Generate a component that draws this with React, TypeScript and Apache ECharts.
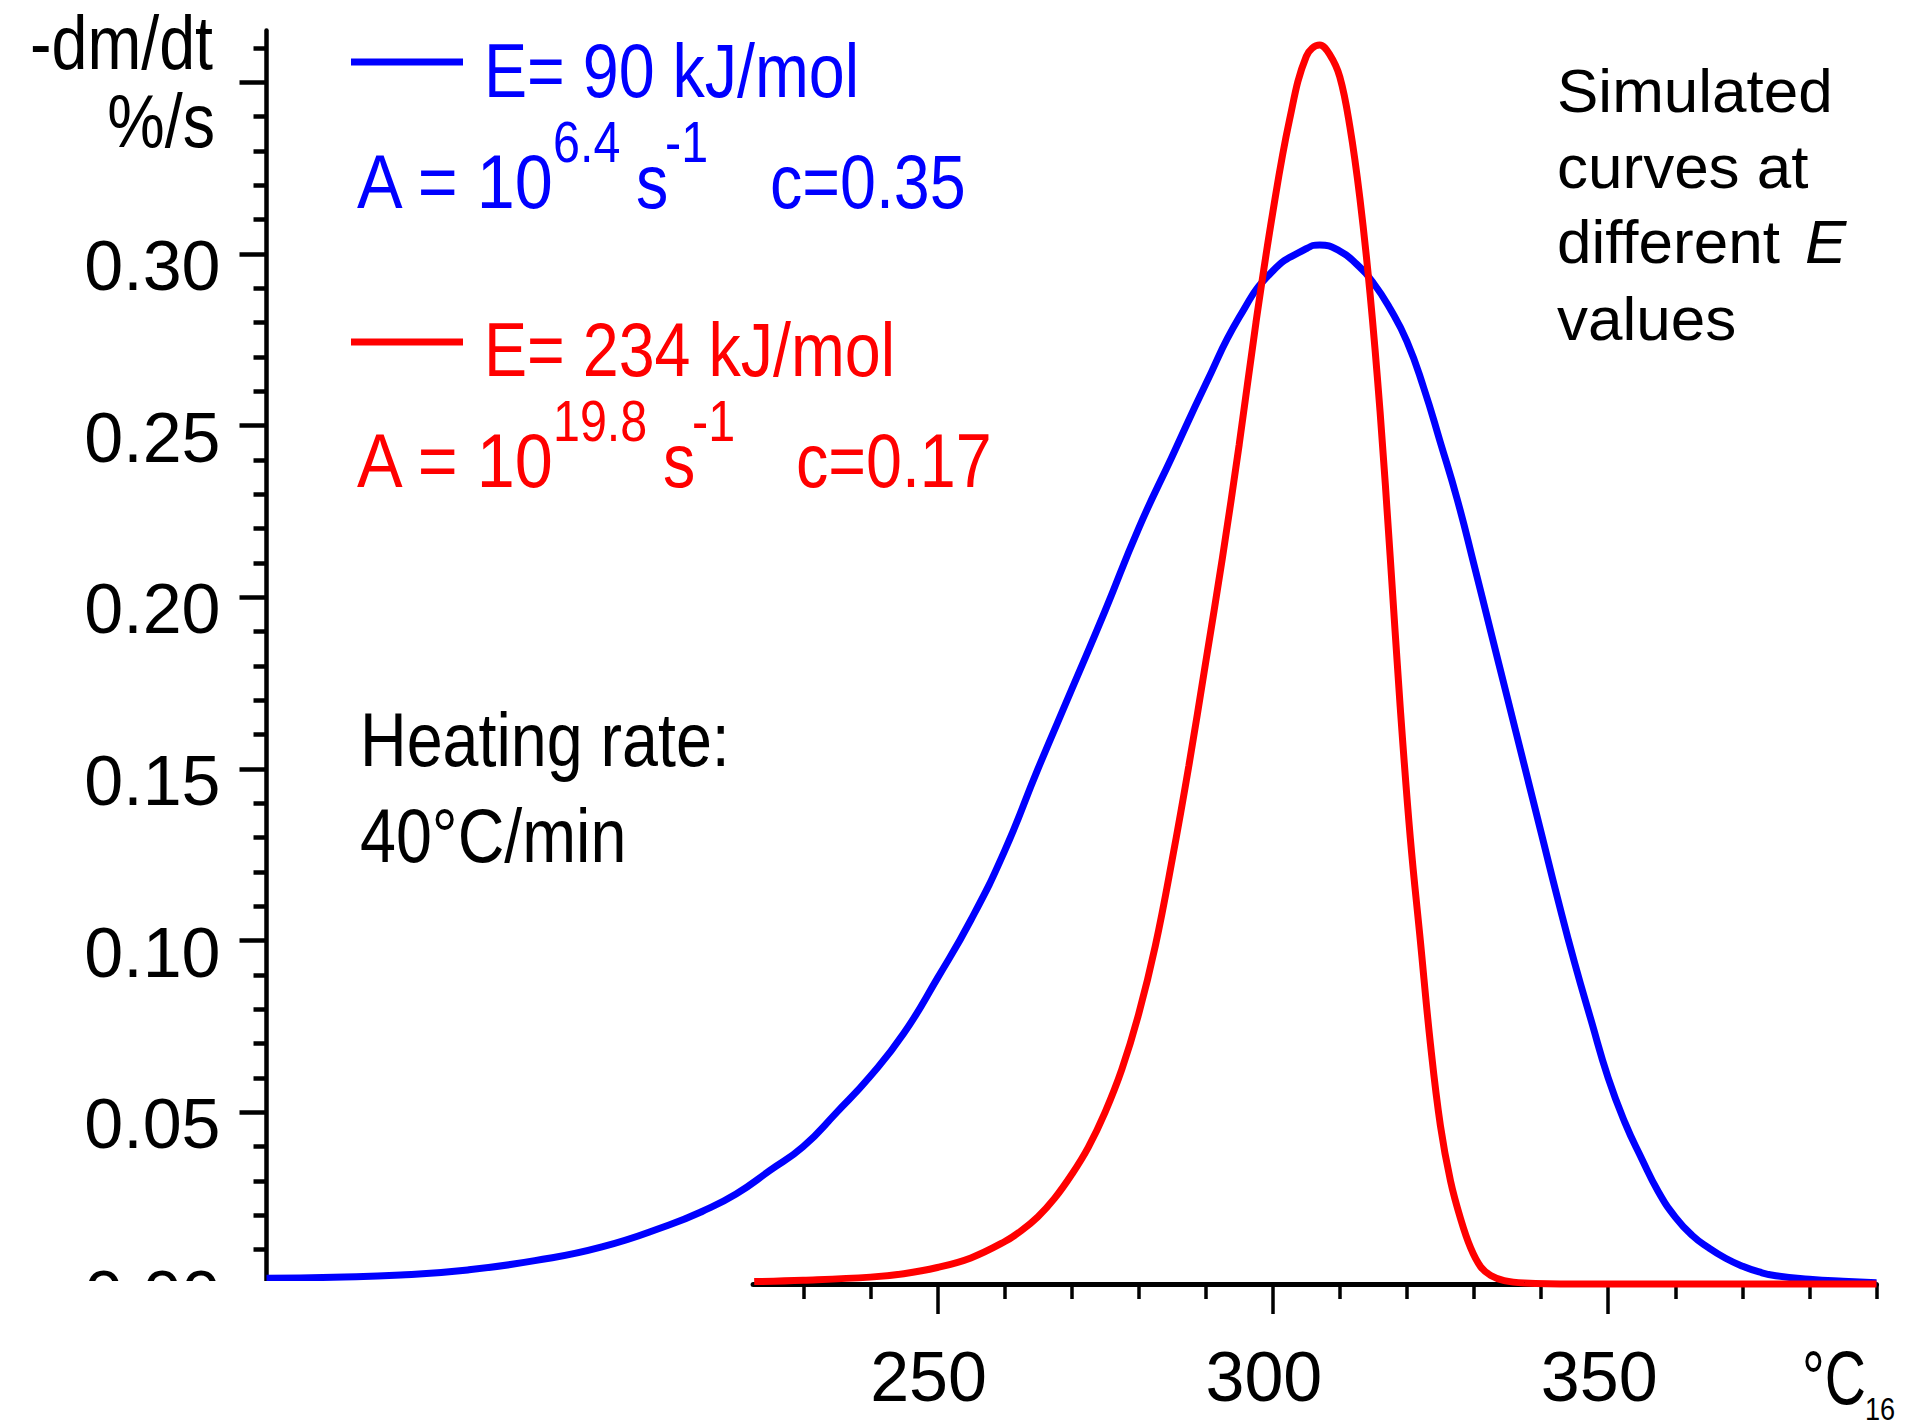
import React, { useEffect, useRef } from 'react';
import * as echarts from 'echarts';

// ---- data (temperature °C, -dm/dt %/s) ----
const blueTemp = [150, 160, 170, 180, 190, 200, 210, 215, 220, 225, 230, 235, 240, 245, 250, 255, 260, 265, 270, 275, 280, 285, 290, 295, 300, 305, 307, 310, 312.5, 315, 317.5, 320, 322.5, 325, 327.5, 330, 332.5, 335, 337.5, 340, 342.5, 345, 347.5, 350, 352.5, 355, 357.5, 360, 362.5, 365, 367.5, 370, 372.5, 375, 380, 385, 390];
const blueRate = [0.0017, 0.0020, 0.0026, 0.0041, 0.0068, 0.0108, 0.0172, 0.0212, 0.0262, 0.0330, 0.0400, 0.0500, 0.0605, 0.0730, 0.0890, 0.1060, 0.1260, 0.1500, 0.1730, 0.1960, 0.2200, 0.2410, 0.2620, 0.2815, 0.2950, 0.3015, 0.3026, 0.3008, 0.2970, 0.2915, 0.2840, 0.2745, 0.2610, 0.2450, 0.2285, 0.2095, 0.1900, 0.1705, 0.1510, 0.1315, 0.1120, 0.0935, 0.0765, 0.0600, 0.0470, 0.0365, 0.0268, 0.0195, 0.0142, 0.0105, 0.0075, 0.0052, 0.0035, 0.0024, 0.0014, 0.0008, 0.0004];

const redTemp = [222.7, 230, 240, 245, 250, 255, 260, 262.5, 265, 267.5, 270, 272.5, 275, 277.5, 280, 282.5, 285, 287.5, 290, 292.5, 295, 297.5, 300, 302.5, 305, 307, 308.5, 310, 311.5, 313, 314.5, 316, 317.5, 319, 320.5, 322, 323.5, 325, 326.5, 328, 329.5, 331, 332.5, 334.5, 337.5, 345, 390];
const redRate = [0.0007, 0.0011, 0.0020, 0.0030, 0.0048, 0.0076, 0.0123, 0.0155, 0.0196, 0.0250, 0.0318, 0.0398, 0.0500, 0.0625, 0.0785, 0.0985, 0.1235, 0.1510, 0.1810, 0.2115, 0.2445, 0.2800, 0.3120, 0.3390, 0.3575, 0.3608, 0.3580, 0.3515, 0.3370, 0.3160, 0.2885, 0.2540, 0.2120, 0.1680, 0.1300, 0.1000, 0.0700, 0.0460, 0.0300, 0.0190, 0.0105, 0.0050, 0.0025, 0.0010, 0.0003, 0.0000, 0.0000];

// ---- axis ticks / labels ----
const yLabelValues = [0, 0.05, 0.1, 0.15, 0.2, 0.25, 0.3];
const yMajorTicks = [0, 0.05, 0.1, 0.15, 0.2, 0.25, 0.3, 0.35];
const yMinorTicks = [0.01, 0.02, 0.03, 0.04, 0.06, 0.07, 0.08, 0.09, 0.11, 0.12, 0.13, 0.14, 0.16, 0.17, 0.18, 0.19, 0.21, 0.22, 0.23, 0.24, 0.26, 0.27, 0.28, 0.29, 0.31, 0.32, 0.33, 0.34, 0.36];
const xLabelValues = [250, 300, 350];
const xMinorTicks = [230, 240, 260, 270, 280, 290, 310, 320, 330, 340, 360, 370, 380, 390];

const FONT = "'Liberation Sans', Arial, sans-serif";
const BLUE = '#0000ff';
const RED = '#ff0000';
const NARROW_SCALE = 0.85;

const pairs = (xs: number[], ys: number[]) => xs.map((x, i) => [x, ys[i]]);

export default function App() {
  const ref = useRef<HTMLDivElement>(null);

  useEffect(() => {
    if (!ref.current) return;
    const chart = echarts.init(ref.current, null, { renderer: 'svg' });

    const gridMain = { left: 266.5, top: 30.6, width: 1610, height: 1253.4, show: false, containLabel: false, outerBoundsMode: 'none' };
    const gridX = { left: 753.1, top: 1000, width: 1123.4, height: 284, show: false, containLabel: false, outerBoundsMode: 'none' };
    const hidden = { show: false, splitLine: { show: false } };
    const tickStyle = (w: number) => ({ color: '#000', width: w });

    // condensed text: real text, horizontally squeezed
    const txt = (text: string, x: number, y: number, fontSize: number, fill: string, align = 'left', sx = NARROW_SCALE, extra: any = {}) => ({
      type: 'text', x, y, z: 10, scaleX: sx,
      style: { text, fill, fontSize, fontFamily: FONT, align, verticalAlign: 'middle', ...extra },
    });

    const option: any = {
      animation: false,
      backgroundColor: '#fff',
      grid: [gridMain, { ...gridMain }, gridX, { ...gridX }],
      xAxis: [
        { gridIndex: 0, type: 'value', min: 150, max: 390, ...hidden },
        { gridIndex: 1, type: 'value', min: 150, max: 390, ...hidden },
        {
          gridIndex: 2, type: 'value', min: 222.5, max: 390,
          splitLine: { show: false },
          axisLine: { show: true, onZero: false, lineStyle: { color: '#000', width: 5 } },
          axisTick: { show: true, customValues: xLabelValues, length: 30, lineStyle: tickStyle(3.5) },
          axisLabel: {
            show: true, customValues: xLabelValues, margin: 55, fontSize: 70, lineHeight: 76,
            fontFamily: FONT, color: '#000', padding: [0, 18, 0, 0],
          },
        },
        {
          gridIndex: 3, type: 'value', min: 222.5, max: 390,
          splitLine: { show: false },
          axisLine: { show: false, onZero: false },
          axisTick: { show: true, customValues: xMinorTicks, length: 15, lineStyle: tickStyle(3.5) },
          axisLabel: { show: false },
        },
      ],
      yAxis: [
        {
          gridIndex: 0, type: 'value', min: 0, max: 0.365,
          splitLine: { show: false },
          axisLine: { show: true, onZero: false, lineStyle: { color: '#000', width: 4.5 } },
          axisTick: { show: true, customValues: yMajorTicks, length: 27, lineStyle: tickStyle(4.5) },
          axisLabel: {
            show: true, customValues: yLabelValues, margin: 46, fontSize: 70, lineHeight: 24,
            verticalAlign: 'top', fontFamily: FONT, color: '#000',
            formatter: (v: number) => v.toFixed(2),
          },
        },
        {
          gridIndex: 1, type: 'value', min: 0, max: 0.365,
          splitLine: { show: false },
          axisLine: { show: false, onZero: false },
          axisTick: { show: true, customValues: yMinorTicks, length: 13, lineStyle: tickStyle(4.5) },
          axisLabel: { show: false },
        },
        { gridIndex: 2, type: 'value', min: 0, max: 1, ...hidden },
        { gridIndex: 3, type: 'value', min: 0, max: 1, ...hidden },
      ],
      series: [
        {
          name: 'E= 90 kJ/mol', type: 'line', xAxisIndex: 0, yAxisIndex: 0,
          data: pairs(blueTemp, blueRate), showSymbol: false, clip: false,
          smooth: 0.5, z: 3,
          lineStyle: { color: BLUE, width: 7 },
        },
        {
          name: 'E= 234 kJ/mol', type: 'line', xAxisIndex: 0, yAxisIndex: 0,
          data: pairs(redTemp, redRate), showSymbol: false, clip: false,
          smooth: 0.4, z: 4,
          lineStyle: { color: RED, width: 7 },
        },
      ],
      graphic: [
        // mask that crops the bottom-left corner (as in the original slide)
        { type: 'rect', z: 50, shape: { x: 0, y: 1281, width: 748, height: 147 }, style: { fill: '#fff' } },
        // y axis title
        txt('-dm/dt', 213, 43, 76, '#000', 'right'),
        txt('%/s', 215, 121, 76, '#000', 'right'),
        // legend: blue
        { type: 'line', z: 10, shape: { x1: 351, y1: 62, x2: 463, y2: 62 }, style: { stroke: BLUE, lineWidth: 7 } },
        txt('E= 90 kJ/mol', 484, 71, 76, BLUE),
        txt('A = 10', 357, 182, 76, BLUE, 'left', 0.9),
        txt('6.4', 553, 142.5, 57, BLUE),
        txt('s', 636, 182, 76, BLUE),
        txt('-1', 665, 142.5, 57, BLUE),
        txt('c=0.35', 770, 182, 76, BLUE),
        // legend: red
        { type: 'line', z: 10, shape: { x1: 351, y1: 342, x2: 463, y2: 342 }, style: { stroke: RED, lineWidth: 7 } },
        txt('E= 234 kJ/mol', 484, 350, 76, RED),
        txt('A = 10', 357, 461, 76, RED, 'left', 0.9),
        txt('19.8', 553, 421.5, 57, RED),
        txt('s', 663, 461, 76, RED),
        txt('-1', 692, 421.5, 57, RED),
        txt('c=0.17', 796, 461, 76, RED),
        // heating rate
        txt('Heating rate:', 360, 740, 76, '#000'),
        txt('40°C/min', 360, 836, 76, '#000'),
        // note (regular width)
        txt('Simulated', 1557, 90.5, 62, '#000', 'left', 1),
        txt('curves at', 1557, 166.5, 62, '#000', 'left', 1),
        txt('different', 1557, 241.5, 62, '#000', 'left', 1),
        txt('E', 1805, 241.5, 62, '#000', 'left', 1, { fontStyle: 'italic' }),
        txt('values', 1557, 318.5, 62, '#000', 'left', 1),
        // unit + page number
        txt('°C', 1802, 1377, 76, '#000', 'left', 0.75),
        txt('16', 1865, 1409, 32, '#000', 'left', 0.85),
      ],
    };

    chart.setOption(option);
    return () => chart.dispose();
  }, []);

  return (
    <div
      ref={ref}
      style={{ position: 'fixed', left: 0, top: 0, width: 1917, height: 1428, background: '#fff' }}
    />
  );
}
